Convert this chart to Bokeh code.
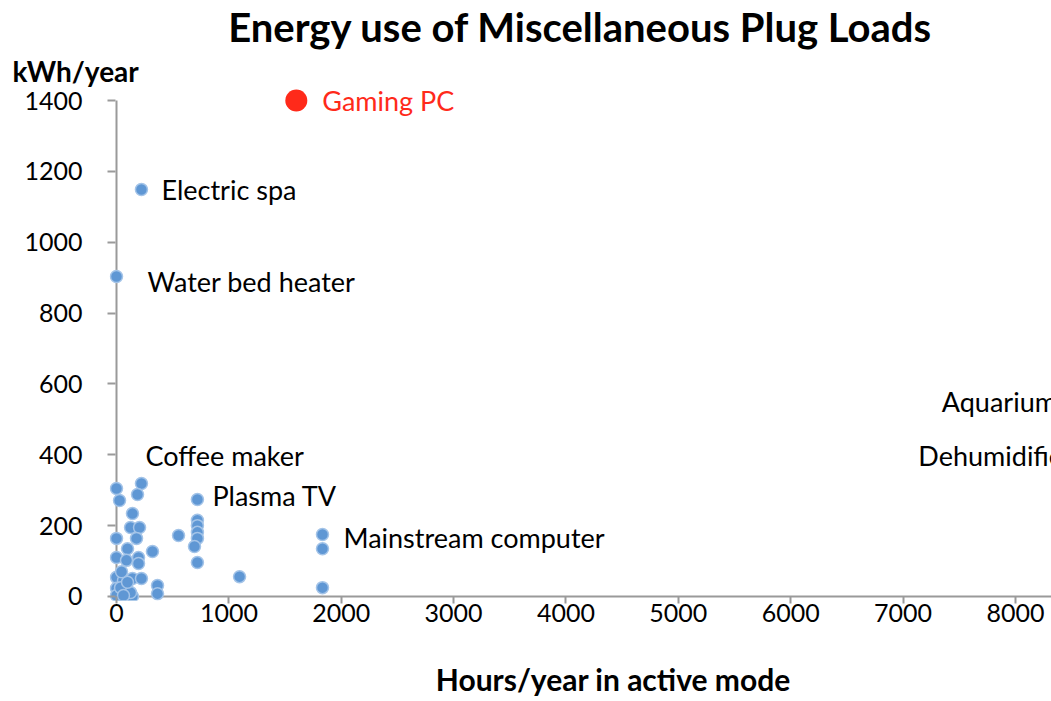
from bokeh.plotting import figure
from bokeh.models import Title, FixedTicker, Range1d, ColumnDataSource
from bokeh.core.properties import value
from bokeh.embed import file_html
from bokeh.resources import INLINE

# ---- data ----
hours = [0, 27, 222, 187, 142, 125, 205, 178, 0, 98, 0, 89, 196, 196, 320,
         552, 720, 720, 720, 720, 720, 694, 720, 365, 365, 0, 62, 142, 222,
         0, 62, 142, 0, 36, 125, 62, 98, 45, 1095, 1833, 1833, 1833, 222, 0]
kwh = [305, 271, 319, 288, 234, 195, 195, 164, 164, 135, 110, 102, 110, 93, 127,
       172, 274, 215, 200, 181, 164, 141, 96, 31, 8, 54, 45, 51, 51,
       23, 17, 0, 3, 25, 11, 3, 40, 70, 56, 175, 135, 25, 1149, 903]

highlight_name = ["Gaming PC"]
highlight_hours = [1600]
highlight_kwh = [1400]

label_text = ["Electric spa", "Water bed heater", "Coffee maker", "Plasma TV",
              "Mainstream computer", "Aquarium", "Dehumidifier"]
label_hours = [222, 0, 258, 720, 1833, 8760, 8760]
label_kwh = [1149, 903, 398, 274, 175, 550, 398]
# pixel offsets of each label from its point (style; +y is downwards)
label_dx = [20, 31, 0, 15, 21, -44, -28]
label_dy = [0, 5, 0, -4, 3, 0, 0]
label_align = ["left", "left", "left", "left", "left", "right", "right"]

x_ticks = [0, 1000, 2000, 3000, 4000, 5000, 6000, 7000, 8000]
y_ticks = [0, 200, 400, 600, 800, 1000, 1200, 1400]

FONT = "Lato"
AXIS_GRAY = "#9a9a9a"

x_end = 8320.4
p = figure(width=1051, height=701,
           x_range=Range1d(-62.3, x_end), y_range=Range1d(-11.3, 1433.9),
           output_backend="svg", toolbar_location=None,
           min_border_left=109, min_border_right=0,
           min_border_top=88, min_border_bottom=101)
p.xgrid.visible = False
p.ygrid.visible = False
p.outline_line_color = None
p.background_fill_color = "white"

for ax in (p.xaxis, p.yaxis):
    ax.axis_line_color = None
    ax.minor_tick_line_color = None
    ax.major_tick_line_color = AXIS_GRAY
    ax.major_tick_line_width = 2
    ax.major_label_text_font = FONT
    ax.major_label_text_font_size = "25px"
    ax.major_label_text_color = "#000000"

p.xaxis.ticker = FixedTicker(ticks=x_ticks)
p.xaxis.major_tick_in = 4
p.xaxis.major_tick_out = 3
p.xaxis.major_label_standoff = 0
# centred a little right of the frame centre, as in the original
p.xaxis.axis_label = "\u00a0" * 9 + "Hours/year in active mode"
p.xaxis.axis_label_text_font = FONT
p.xaxis.axis_label_text_font_size = "30px"
p.xaxis.axis_label_text_font_style = "bold"
p.xaxis.axis_label_text_color = "#000000"
p.xaxis.axis_label_standoff = 36

p.yaxis.ticker = FixedTicker(ticks=y_ticks)
p.yaxis.major_tick_in = 6
p.yaxis.major_tick_out = 2
p.yaxis.major_label_standoff = 25

# axis lines (Excel-style, meeting at the origin)
p.segment(x0=[0, 0], y0=[0, 0], x1=[0, x_end], y1=[max(y_ticks), 0],
          line_color=AXIS_GRAY, line_width=2)

# titles
p.title.text = "Energy use of Miscellaneous Plug Loads"
p.title.align = "center"
p.title.offset = 5
p.title.text_font = FONT
p.title.text_font_size = "40px"
p.title.text_font_style = "bold"
p.title.text_color = "#000000"
p.title.standoff = 0

ylab = Title(text="kWh/year", align="left", offset=-97,
             text_font=FONT, text_font_size="28px", text_font_style="bold",
             text_color="#000000", standoff=2)
p.add_layout(ylab, "above")

# points
p.scatter(hours, kwh, size=12, fill_color="#5f97d4", line_color="#a4c4e8",
          line_width=1.5)
p.scatter(label_hours[5:], label_kwh[5:], size=12, fill_color="#5f97d4",
          line_color="#a4c4e8", line_width=1.5)
p.scatter(highlight_hours, highlight_kwh, size=22, fill_color="#ff2a1a",
          line_color=None)

src = ColumnDataSource(dict(x=label_hours, y=label_kwh, t=label_text,
                            dx=label_dx, dy=label_dy, al=label_align))
p.text(x="x", y="y", text="t", x_offset="dx", y_offset="dy", text_align="al",
       source=src, text_font=value(FONT), text_font_size="27px",
       text_baseline="middle", text_color="#000000")

p.text(x=highlight_hours, y=highlight_kwh, text=highlight_name, x_offset=26,
       text_font=value(FONT), text_font_size="27px", text_baseline="middle",
       text_color="#ff2a1a")

open("out.html", "w").write(file_html(p, INLINE))
